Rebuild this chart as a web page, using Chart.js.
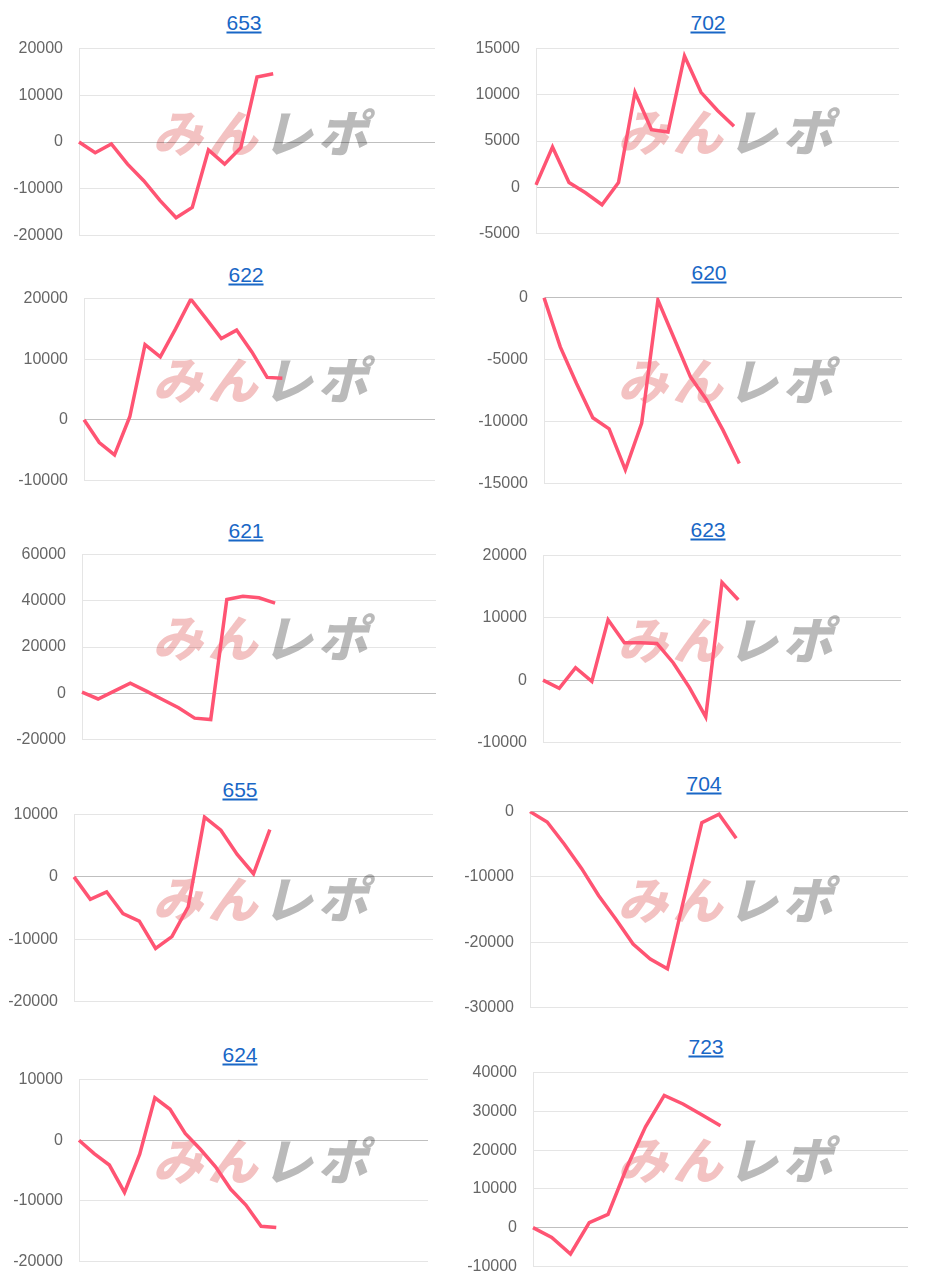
<!DOCTYPE html>
<html>
<head>
<meta charset="utf-8">
<script src="https://cdn.jsdelivr.net/npm/chart.js@4"></script>
<style>
body{margin:0;background:#fff;width:930px;height:1283px;overflow:hidden;position:relative;font-family:"Liberation Sans",Arial,sans-serif}
.ttl{position:absolute;transform:translate(-50%,-50%);font-size:21px;line-height:1;color:#1967c6;text-decoration:underline;white-space:nowrap}
.wm{position:absolute;transform:translate(-50%,-50%) skewX(-14deg);font-family:"Noto Sans CJK JP",sans-serif;font-weight:900;font-size:50px;line-height:1;letter-spacing:5px;white-space:nowrap}
.wm .a{color:rgba(226,110,110,0.42)}
.wm .b{color:rgba(110,110,110,0.48)}
canvas{position:absolute}
</style>
</head>
<body>
<script>
// x slots (hidden on the axis)
const slots = ['1','2','3','4','5','6','7','8','9','10','11','12','13','14','15','16','17','18','19','20','21','22','23','24'];
const games = ['653','702','622','620','621','623','655','704','624','723'];
const slotCount = [23,23,24,23,23,23,23,23,24,21];

const d653 = [0,-2300,-400,-4750,-8300,-12500,-16200,-14000,-1700,-4750,-1200,13900,14600];
const d702 = [250,4350,500,-600,-1900,500,10270,6230,5980,14200,10270,8300,6590];
const d622 = [0,-3750,-5800,500,12400,10400,15000,19900,16700,13400,14800,11200,7000,6850];
const d620 = [0,-3980,-6930,-9700,-10600,-13900,-10160,-200,-3300,-6400,-8280,-10700,-13400];
const d621 = [500,-2500,900,4300,900,-2700,-6300,-10800,-11400,40600,42000,41300,39000];
const d623 = [0,-1300,2000,-200,9700,6000,6000,5900,2800,-1200,-5900,15700,12900];
const d655 = [0,-3600,-2400,-5900,-7100,-11500,-9600,-4800,9600,7500,3600,500,7600];
const d704 = [0,-1600,-5000,-8700,-12900,-16500,-20300,-22600,-24100,-12900,-1700,-400,-4100];
const d624 = [0,-2200,-4100,-8600,-2300,7000,5100,1100,-1500,-4400,-8100,-10700,-14200,-14400];
const d723 = [0,-2500,-6800,1300,3400,15500,26000,34100,31900,29100,26300];
const series = [d653,d702,d622,d620,d621,d623,d655,d704,d624,d723];

const yMin  = [-20000,-5000,-10000,-15000,-20000,-10000,-20000,-30000,-20000,-10000];
const yMax  = [20000,15000,20000,0,60000,20000,10000,0,10000,40000];
const yStep = [10000,5000,10000,5000,20000,10000,10000,10000,10000,10000];

// plot area [left, top, right, bottom] and title centre [x, y]
const boxes = [
  [79,48,435,235, 244,22],
  [536,48,899,233, 708,22],
  [84,298,435,480, 246,274],
  [544,297,902,483, 709,272],
  [82,554,436,739, 246,530],
  [543,555,901,742, 708,529],
  [74,814,433,1001, 240,789],
  [530,811,908,1007, 704,783],
  [79,1079,428,1261, 240,1054],
  [533,1072,908,1266, 706,1046]
];
const AXW = 72;
const PADT = 25, PADB = 26;

games.forEach((g,i)=>{
  const [L,T,R,B,tx,ty] = boxes[i];

  const t = document.createElement('a');
  t.className = 'ttl'; t.href = '#'; t.textContent = g;
  t.style.left = tx+'px'; t.style.top = ty+'px';
  document.body.appendChild(t);

  const wm = document.createElement('div');
  wm.className = 'wm';
  wm.innerHTML = '<span class="a">みん</span><span class="b">レポ</span>';
  wm.style.left = (i%2==0 ? 268 : 733)+'px';
  wm.style.top = ((T+B)/2-12)+'px';
  document.body.appendChild(wm);

  const c = document.createElement('canvas');
  c.width = R-L+AXW; c.height = B-T+PADT+PADB;
  c.style.left = (L-AXW)+'px'; c.style.top = (T-PADT)+'px';
  document.body.appendChild(c);

  new Chart(c.getContext('2d'), {
    type: 'line',
    data: {
      labels: slots.slice(0, slotCount[i]),
      datasets: [{
        data: series[i],
        borderColor: 'rgb(255,84,115)',
        borderWidth: 3.5,
        pointRadius: 0,
        fill: false,
        tension: 0
      }]
    },
    options: {
      responsive: false,
      animation: false,
      plugins: {legend:{display:false}, tooltip:{enabled:false}},
      scales: {
        x: {display:false},
        y: {
          min: yMin[i], max: yMax[i],
          afterFit: s => { s.width = AXW; },
          ticks: {
            stepSize: yStep[i],
            padding: 16,
            color: '#666',
            font: {family:'"Liberation Sans", Arial, sans-serif', size:16},
            callback: v => String(v)
          },
          grid: {
            drawTicks: false,
            color: ctx => ctx.tick && ctx.tick.value === 0 ? 'rgba(0,0,0,0.25)' : 'rgba(0,0,0,0.1)'
          },
          border: {color:'rgba(0,0,0,0.1)'}
        }
      }
    }
  });
});
</script>
</body>
</html>
